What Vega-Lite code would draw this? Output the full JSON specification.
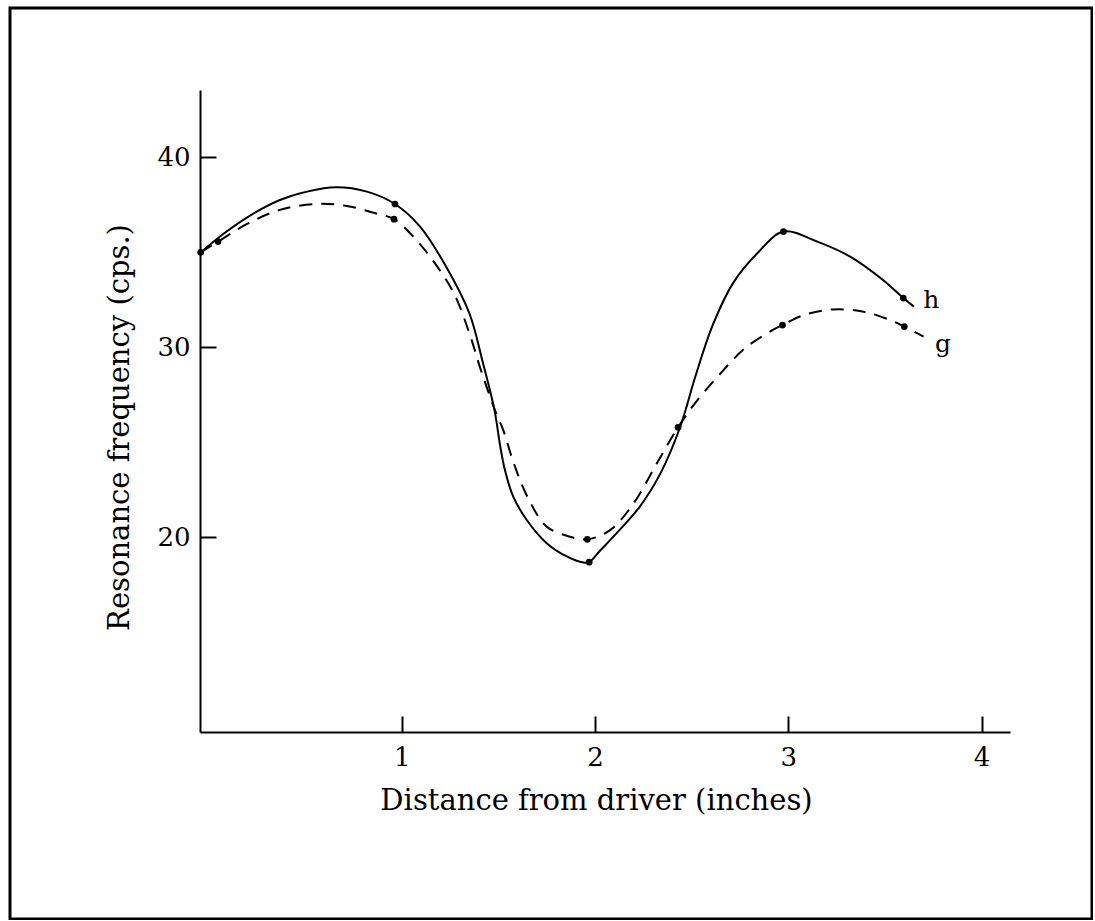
{
  "$schema": "https://vega.github.io/schema/vega-lite/v6.json",
  "autosize": "none",
  "padding": {"left": 10, "top": 8, "right": 1, "bottom": 1},
  "width": 1082,
  "height": 911,
  "background": "#ffffff",
  "config": {
    "view": {"stroke": "#000000", "strokeWidth": 3},
    "axis": {
      "grid": false,
      "domainColor": "#000000",
      "domainWidth": 2,
      "tickColor": "#000000",
      "tickWidth": 2,
      "labelColor": "#000000",
      "titleColor": "#000000",
      "labelFont": "DejaVu Serif",
      "titleFont": "DejaVu Serif",
      "titleFontWeight": "normal"
    }
  },
  "datasets": {
    "curves": [
      {"series": "h", "x": -0.04, "y": 35.0},
      {"series": "h", "x": 0.08, "y": 36.0},
      {"series": "h", "x": 0.22, "y": 36.97},
      {"series": "h", "x": 0.37, "y": 37.76},
      {"series": "h", "x": 0.51, "y": 38.2},
      {"series": "h", "x": 0.66, "y": 38.43},
      {"series": "h", "x": 0.82, "y": 38.2},
      {"series": "h", "x": 0.965, "y": 37.55},
      {"series": "h", "x": 1.095, "y": 36.36},
      {"series": "h", "x": 1.23, "y": 34.25},
      {"series": "h", "x": 1.35, "y": 31.8},
      {"series": "h", "x": 1.42, "y": 29.2},
      {"series": "h", "x": 1.48, "y": 26.7},
      {"series": "h", "x": 1.51, "y": 24.78},
      {"series": "h", "x": 1.534, "y": 23.55},
      {"series": "h", "x": 1.577, "y": 22.15},
      {"series": "h", "x": 1.647, "y": 20.92},
      {"series": "h", "x": 1.75, "y": 19.7},
      {"series": "h", "x": 1.854, "y": 19.0},
      {"series": "h", "x": 1.94, "y": 18.68},
      {"series": "h", "x": 1.97, "y": 18.7},
      {"series": "h", "x": 2.026, "y": 19.3},
      {"series": "h", "x": 2.095, "y": 20.04},
      {"series": "h", "x": 2.23, "y": 21.6},
      {"series": "h", "x": 2.34, "y": 23.4},
      {"series": "h", "x": 2.44, "y": 25.8},
      {"series": "h", "x": 2.52, "y": 28.5},
      {"series": "h", "x": 2.61, "y": 31.2},
      {"series": "h", "x": 2.715, "y": 33.4},
      {"series": "h", "x": 2.84, "y": 34.96},
      {"series": "h", "x": 2.975, "y": 36.1},
      {"series": "h", "x": 3.15, "y": 35.57},
      {"series": "h", "x": 3.32, "y": 34.78},
      {"series": "h", "x": 3.49, "y": 33.55},
      {"series": "h", "x": 3.595, "y": 32.6},
      {"series": "h", "x": 3.65, "y": 32.15},
      {"series": "g", "x": -0.04, "y": 35.0},
      {"series": "g", "x": 0.05, "y": 35.57},
      {"series": "g", "x": 0.2, "y": 36.5},
      {"series": "g", "x": 0.37, "y": 37.24},
      {"series": "g", "x": 0.56, "y": 37.55},
      {"series": "g", "x": 0.715, "y": 37.45},
      {"series": "g", "x": 0.85, "y": 37.1},
      {"series": "g", "x": 0.96, "y": 36.75},
      {"series": "g", "x": 1.06, "y": 35.83},
      {"series": "g", "x": 1.16, "y": 34.6},
      {"series": "g", "x": 1.27, "y": 32.85},
      {"series": "g", "x": 1.35, "y": 30.75},
      {"series": "g", "x": 1.41, "y": 28.8},
      {"series": "g", "x": 1.49, "y": 26.5},
      {"series": "g", "x": 1.525, "y": 25.66},
      {"series": "g", "x": 1.58, "y": 23.9},
      {"series": "g", "x": 1.65, "y": 22.15},
      {"series": "g", "x": 1.75, "y": 20.57},
      {"series": "g", "x": 1.87, "y": 20.04},
      {"series": "g", "x": 1.96, "y": 19.9},
      {"series": "g", "x": 2.08, "y": 20.4},
      {"series": "g", "x": 2.2, "y": 21.8},
      {"series": "g", "x": 2.32, "y": 23.9},
      {"series": "g", "x": 2.43, "y": 25.8},
      {"series": "g", "x": 2.52, "y": 27.1},
      {"series": "g", "x": 2.63, "y": 28.41},
      {"series": "g", "x": 2.776, "y": 29.96},
      {"series": "g", "x": 2.92, "y": 30.92},
      {"series": "g", "x": 2.97, "y": 31.18},
      {"series": "g", "x": 3.08, "y": 31.7},
      {"series": "g", "x": 3.23, "y": 32.0},
      {"series": "g", "x": 3.39, "y": 31.88},
      {"series": "g", "x": 3.525, "y": 31.45},
      {"series": "g", "x": 3.6, "y": 31.1},
      {"series": "g", "x": 3.7, "y": 30.57}
    ],
    "dots": [
      {"series": "h", "x": -0.04, "y": 35.0},
      {"series": "h", "x": 0.965, "y": 37.55},
      {"series": "h", "x": 1.97, "y": 18.7},
      {"series": "h", "x": 2.975, "y": 36.1},
      {"series": "h", "x": 3.595, "y": 32.6},
      {"series": "g", "x": 0.05, "y": 35.57},
      {"series": "g", "x": 0.96, "y": 36.75},
      {"series": "g", "x": 1.96, "y": 19.9},
      {"series": "g", "x": 2.43, "y": 25.8},
      {"series": "g", "x": 2.97, "y": 31.18},
      {"series": "g", "x": 3.6, "y": 31.1}
    ],
    "labels": [
      {"series": "h", "x": 3.74, "y": 32.5},
      {"series": "g", "x": 3.8, "y": 30.2}
    ]
  },
  "encoding": {
    "x": {
      "field": "x",
      "type": "quantitative",
      "scale": {"domain": [-0.0435, 4.147], "range": [190, 1000], "nice": false, "zero": false},
      "axis": {
        "orient": "bottom",
        "offset": -187,
        "values": [1, 2, 3, 4],
        "format": "d",
        "tickSize": -16,
        "labelPadding": 28,
        "labelFontSize": 26,
        "title": "Distance from driver (inches)",
        "titleFontSize": 29,
        "titlePadding": 16,
        "titleX": 586
      }
    },
    "y": {
      "field": "y",
      "type": "quantitative",
      "scale": {"domain": [9.76, 43.55], "range": [724, 82], "nice": false, "zero": false},
      "axis": {
        "orient": "left",
        "offset": -190,
        "values": [20, 30, 40],
        "format": "d",
        "tickSize": -16,
        "labelPadding": 26,
        "labelFontSize": 26,
        "title": "Resonance frequency (cps.)",
        "titleFontSize": 29,
        "titlePadding": 22,
        "titleY": 419
      }
    }
  },
  "layer": [
    {
      "data": {"name": "curves"},
      "transform": [{"filter": "datum.series === 'h'"}],
      "mark": {"type": "line", "interpolate": "catmull-rom", "color": "#000000", "strokeWidth": 2}
    },
    {
      "data": {"name": "curves"},
      "transform": [{"filter": "datum.series === 'g'"}],
      "mark": {"type": "line", "interpolate": "catmull-rom", "color": "#000000", "strokeWidth": 2, "strokeDash": [13, 9]}
    },
    {
      "data": {"name": "dots"},
      "mark": {"type": "circle", "color": "#000000", "opacity": 1, "size": 45}
    },
    {
      "data": {"name": "labels"},
      "mark": {"type": "text", "font": "DejaVu Serif", "fontSize": 25, "color": "#000000", "align": "center", "baseline": "middle"},
      "encoding": {"text": {"field": "series"}}
    }
  ]
}
